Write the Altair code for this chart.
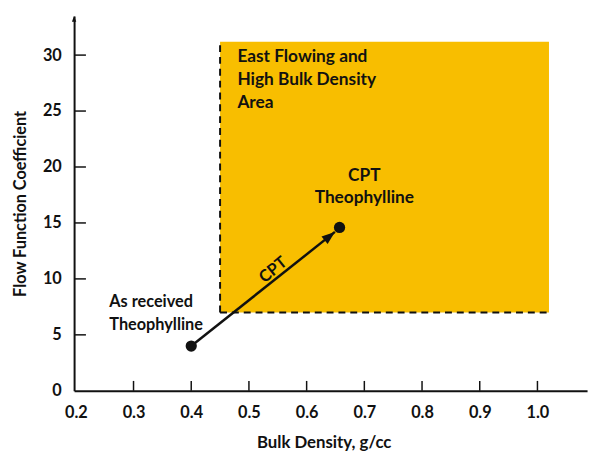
import altair as alt
import pandas as pd

# ---- data ----
x_domain = [0.197, 1.086]
y_domain = [0, 33.5]
x_tick_values = [0.2, 0.3, 0.4, 0.5, 0.6, 0.7, 0.8, 0.9, 1.0]
y_tick_values = [0, 5, 10, 15, 20, 25, 30]
x_inner_ticks = [0.3, 0.4, 0.5, 0.6, 0.7, 0.8, 0.9, 1.0]
y_inner_ticks = [5, 10, 15, 20, 25, 30]

region_x = [0.45, 1.02]
region_y = [7.0, 31.2]
region_label = "East Flowing and\nHigh Bulk Density\nArea"

point_names = ["As received Theophylline", "CPT Theophylline"]
point_x = [0.40, 0.657]
point_y = [4.0, 14.6]

arrow_start = [0.40, 4.0]
arrow_tip = [0.649, 14.2]
arrow_label = "CPT"

FONT = "Lato"
BLACK = "#111111"
FILL = "#F8BE00"
ARROW_PATH = "M0,0 L-0.55,1.5 L0.55,1.5 Z"

xs = alt.Scale(domain=x_domain, nice=False, zero=False)
ys = alt.Scale(domain=y_domain, nice=False, zero=False)

region_df = pd.DataFrame({"x": [region_x[0]], "x2": [region_x[1]],
                          "y": [region_y[0]], "y2": [region_y[1]]})

base_x = alt.X("x:Q", scale=xs, title="Bulk Density, g/cc",
               axis=alt.Axis(values=x_tick_values, format=".1f", grid=False,
                             tickSize=0, domainColor=BLACK, domainWidth=2,
                             labelFlush=False,
                             labelFont=FONT, labelFontSize=16.5, labelFontWeight="bold",
                             labelColor=BLACK, labelPadding=14,
                             titleFont=FONT, titleFontSize=17, titleFontWeight="bold",
                             titleColor=BLACK, titlePadding=14, titleX=253))
base_y = alt.Y("y:Q", scale=ys, title="Flow Function Coefficient",
               axis=alt.Axis(values=y_tick_values, format="d", grid=False,
                             tickSize=0, domainColor=BLACK, domainWidth=2,
                             labelFlush=False,
                             labelFont=FONT, labelFontSize=16.5, labelFontWeight="bold",
                             labelColor=BLACK, labelPadding=13,
                             titleFont=FONT, titleFontSize=16.5, titleFontWeight="bold",
                             titleColor=BLACK, titlePadding=14))

rect = alt.Chart(region_df).mark_rect(color=FILL).encode(
    x=base_x, x2="x2:Q", y=base_y, y2="y2:Q")

left_edge = alt.Chart(region_df).mark_rule(
    color=BLACK, strokeWidth=2, strokeDash=[7, 5]).encode(
    x=alt.X("x:Q", scale=xs), y=alt.Y("y:Q", scale=ys), y2="y2:Q")
bottom_edge = alt.Chart(region_df).mark_rule(
    color=BLACK, strokeWidth=2, strokeDash=[7, 5]).encode(
    x=alt.X("x:Q", scale=xs), x2="x2:Q", y=alt.Y("y:Q", scale=ys))

xt = alt.Chart(pd.DataFrame({"x": x_inner_ticks})).mark_rule(
    color=BLACK, strokeWidth=1.5).encode(
    x=alt.X("x:Q", scale=xs), y=alt.value(380), y2=alt.value(370))
yt = alt.Chart(pd.DataFrame({"y": y_inner_ticks})).mark_rule(
    color=BLACK, strokeWidth=1.5).encode(
    y=alt.Y("y:Q", scale=ys), x=alt.value(0), x2=alt.value(12))

y_arrow = alt.Chart(pd.DataFrame({"x": [x_domain[0]], "y": [y_domain[1]]})).mark_point(
    shape=ARROW_PATH, filled=True, color=BLACK, opacity=1, size=64, angle=0).encode(
    x=alt.X("x:Q", scale=xs), y=alt.Y("y:Q", scale=ys))

arrow_df = pd.DataFrame({"x": [arrow_start[0]], "y": [arrow_start[1]],
                         "x2": [arrow_tip[0]], "y2": [arrow_tip[1]]})
arrow_line = alt.Chart(arrow_df).mark_rule(color=BLACK, strokeWidth=2.5).encode(
    x=alt.X("x:Q", scale=xs), y=alt.Y("y:Q", scale=ys), x2="x2:Q", y2="y2:Q")
arrow_head = alt.Chart(pd.DataFrame({"x": [arrow_tip[0]], "y": [arrow_tip[1]]})).mark_point(
    shape=ARROW_PATH, filled=True, color=BLACK, opacity=1, size=324, angle=51).encode(
    x=alt.X("x:Q", scale=xs), y=alt.Y("y:Q", scale=ys))

points = alt.Chart(pd.DataFrame({"name": point_names, "x": point_x, "y": point_y})).mark_circle(
    color=BLACK, opacity=1, size=130).encode(
    x=alt.X("x:Q", scale=xs), y=alt.Y("y:Q", scale=ys))

def label(text, x, y, align="left", angle=0, baseline="top", size=17.5):
    return alt.Chart(pd.DataFrame({"x": [x], "y": [y]})).mark_text(
        text=text, font=FONT, fontSize=size, fontWeight="bold", color=BLACK,
        align=align, baseline=baseline, lineBreak="\n", lineHeight=23,
        angle=angle).encode(x=alt.X("x:Q", scale=xs), y=alt.Y("y:Q", scale=ys))

t_region = label(region_label, 0.48, 30.6)
t_start = label("As received\nTheophylline", 0.258, 8.6, size=16.5)
t_end = label("CPT\nTheophylline", 0.70, 20.0, align="center")
t_arrow = label(arrow_label, 0.542, 10.8, align="center", angle=321, baseline="middle", size=16.5)

chart = alt.layer(rect, left_edge, bottom_edge, xt, yt, y_arrow, arrow_line, arrow_head,
                  points, t_region, t_start, t_end, t_arrow).properties(
    width=520, height=380,
    autosize=alt.AutoSizeParams(type="none"),
    padding={"left": 67, "top": 5, "right": 5, "bottom": 59},
).configure_view(stroke=None)

chart.save("out.html", embed_options={"renderer": "svg", "actions": False})
